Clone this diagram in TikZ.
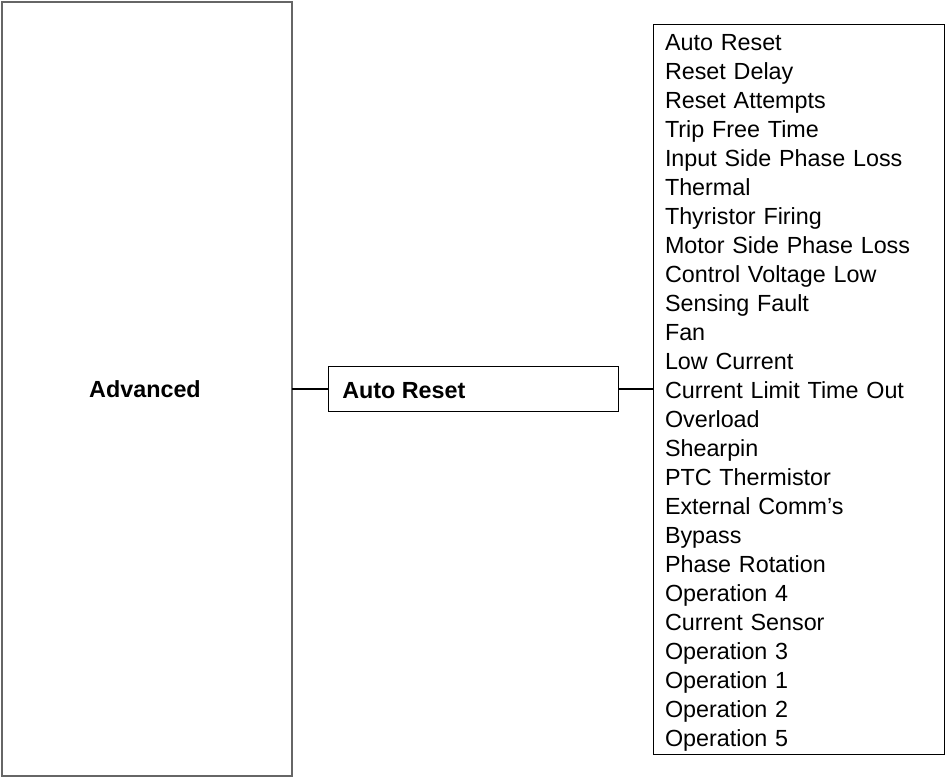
\documentclass[tikz,border=0pt]{standalone}
\usepackage{fontspec}
\setmainfont{Liberation Sans}
\begin{document}
\begin{tikzpicture}[x=0.75pt,y=-0.75pt,
  box/.style={draw=black,line width=0.7pt,inner sep=0pt,outer sep=0pt},
  bigbox/.style={draw=black!60,line width=1.3pt,inner sep=0pt,outer sep=0pt,minimum width=290*0.75pt,minimum height=774*0.75pt},
  midbox/.style={box,minimum width=290*0.75pt,minimum height=45*0.75pt},
  listbox/.style={box,minimum width=291*0.75pt,minimum height=730*0.75pt},
  bold/.style={font=\fontsize{17.5}{21}\selectfont\bfseries,inner sep=0pt},
  listtext/.style={font=\fontsize{17.5}{21.75}\selectfont,align=left,text width=270*0.75pt,inner sep=0pt},
  conn/.style={draw=black,line width=1.1pt}]
\useasboundingbox (0,0) rectangle (945,778);
\node[bigbox] (adv) at (147,389) {};
\node[bold] (advt) at (145,389) {Advanced};
\node[midbox] (mid) at (473,389) {};
\node[bold,anchor=west] (midt) at (342,391) {Auto Reset};
\node[listbox] (list) at (798.5,389) {};
\node[listtext] (listt) at (800,393) {Auto Reset\\Reset Delay\\Reset Attempts\\Trip Free Time\\Input Side Phase Loss\\Thermal\\Thyristor Firing\\Motor Side Phase Loss\\Control Voltage Low\\Sensing Fault\\Fan\\Low Current\\Current Limit Time Out\\Overload\\Shearpin\\PTC Thermistor\\External Comm’s\\Bypass\\Phase Rotation\\Operation 4\\Current Sensor\\Operation 3\\Operation 1\\Operation 2\\Operation 5};
\draw[conn] (adv.east) -- (mid.west);
\draw[conn] (mid.east) -- (list.west);
\end{tikzpicture}
\end{document}
